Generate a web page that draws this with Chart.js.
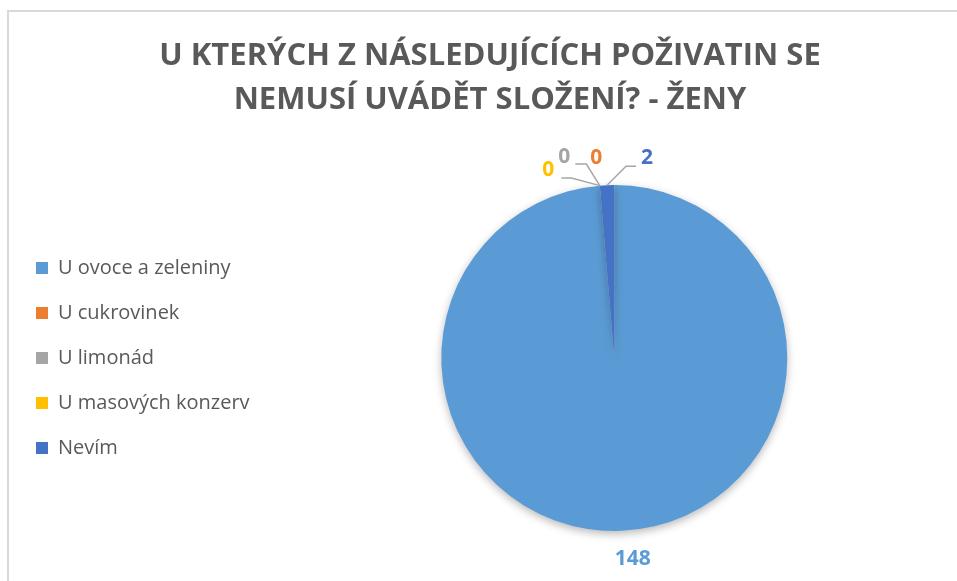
<!DOCTYPE html>
<html lang="cs">
<head>
<meta charset="utf-8">
<title>Složení poživatin - ženy</title>
<script src="https://cdn.jsdelivr.net/npm/chart.js@4.4.1/dist/chart.umd.min.js"></script>
<style>
  html, body { margin: 0; padding: 0; background: #fff; overflow: hidden; }
  body { width: 957px; height: 581px; position: relative; }
  #frame {
    position: absolute; left: 7px; top: 10px;
    width: 980px; height: 600px;
    border: 2px solid #d9d9d9; box-sizing: border-box;
  }
  #chart { position: absolute; left: 0; top: 0; }
</style>
</head>
<body>
<div id="frame"></div>
<canvas id="chart" width="980" height="581"></canvas>
<script>
// answers and counts
const categories = ['U ovoce a zeleniny', 'U cukrovinek', 'U limonád', 'U masových konzerv', 'Nevím'];
const counts = [148, 0, 0, 0, 2];
const colors = ['#5B9BD5', '#ED7D31', '#A5A5A5', '#FFC000', '#4472C4'];
const titleLines = ['U KTERÝCH Z NÁSLEDUJÍCÍCH POŽIVATIN SE', 'NEMUSÍ UVÁDĚT SLOŽENÍ? - ŽENY'];

const FONT = '"Open Sans", "Liberation Sans", sans-serif';

// label placement around each slice: offset of the text from the slice edge,
// plus the bend points of the leader line (null = no leader)
const labelPlacement = [
  { dx: 10, dy: 1, radial: 27, leader: null },
  { dx: -3.5, dy: -27.6, leader: null },
  { dx: -35.5, dy: -28.6, leader: [[-13.5, -21.6], [-24.5, -21.6]] },
  { dx: -51.5, dy: -15.6, leader: [[-28.5, -7.6], [-38.5, -7.6]] },
  { dx: 40, dy: -27, leader: [[19, -19], [29, -19]] }
];

// soft drop shadow under the pie
const pieShadow = {
  id: 'pieShadow',
  beforeDatasetsDraw(chart) {
    const ctx = chart.ctx;
    ctx.save();
    ctx.shadowColor = 'rgba(0,0,0,0.28)';
    ctx.shadowBlur = 9;
    ctx.shadowOffsetY = 3;
  },
  afterDatasetsDraw(chart) {
    chart.ctx.restore();
  }
};

// value labels with leader lines
const valueLabels = {
  id: 'valueLabels',
  afterDatasetsDraw(chart) {
    const ctx = chart.ctx;
    const arcs = chart.getDatasetMeta(0).data;
    ctx.save();
    ctx.font = 'bold 21px ' + FONT;
    ctx.textAlign = 'center';
    ctx.textBaseline = 'middle';
    arcs.forEach((arc, i) => {
      const p = arc.getProps(['x', 'y', 'startAngle', 'endAngle', 'outerRadius'], true);
      const mid = (p.startAngle + p.endAngle) / 2;
      const place = labelPlacement[i];
      let lx, ly;
      if (place.radial) {
        const r = p.outerRadius + place.radial;
        lx = p.x + Math.cos(mid) * r + place.dx;
        ly = p.y + Math.sin(mid) * r + place.dy;
      } else {
        const ax = p.x + Math.cos(mid) * p.outerRadius;
        const ay = p.y + Math.sin(mid) * p.outerRadius;
        lx = ax + place.dx;
        ly = ay + place.dy;
        if (place.leader) {
          ctx.strokeStyle = '#a6a6a6';
          ctx.lineWidth = 1.5;
          ctx.beginPath();
          ctx.moveTo(ax, ay);
          place.leader.forEach(pt => ctx.lineTo(ax + pt[0], ay + pt[1]));
          ctx.stroke();
        }
      }
      ctx.fillStyle = colors[i];
      ctx.fillText(String(counts[i]), lx, ly);
    });
    ctx.restore();
  }
};

const ctx = document.getElementById('chart').getContext('2d');
const chart = new Chart(ctx, {
  type: 'pie',
  data: {
    labels: categories,
    datasets: [{
      data: counts,
      backgroundColor: colors,
      borderWidth: 0
    }]
  },
  options: {
    responsive: false,
    animation: false,
    layout: {
      padding: { top: 0, bottom: 50, left: 11, right: 11 }
    },
    plugins: {
      title: {
        display: true,
        text: titleLines,
        color: '#595959',
        font: { family: FONT, size: 31, weight: 'bold', lineHeight: 1.42 },
        padding: { top: 34, bottom: 63 }
      },
      legend: {
        position: 'left',
        align: 'center',
        fullSize: false,
        labels: {
          color: '#595959',
          font: { family: FONT, size: 20 },
          boxWidth: 12,
          boxHeight: 12,
          padding: 25
        }
      },
      tooltip: { enabled: false }
    }
  },
  plugins: [pieShadow, valueLabels]
});
</script>
</body>
</html>
